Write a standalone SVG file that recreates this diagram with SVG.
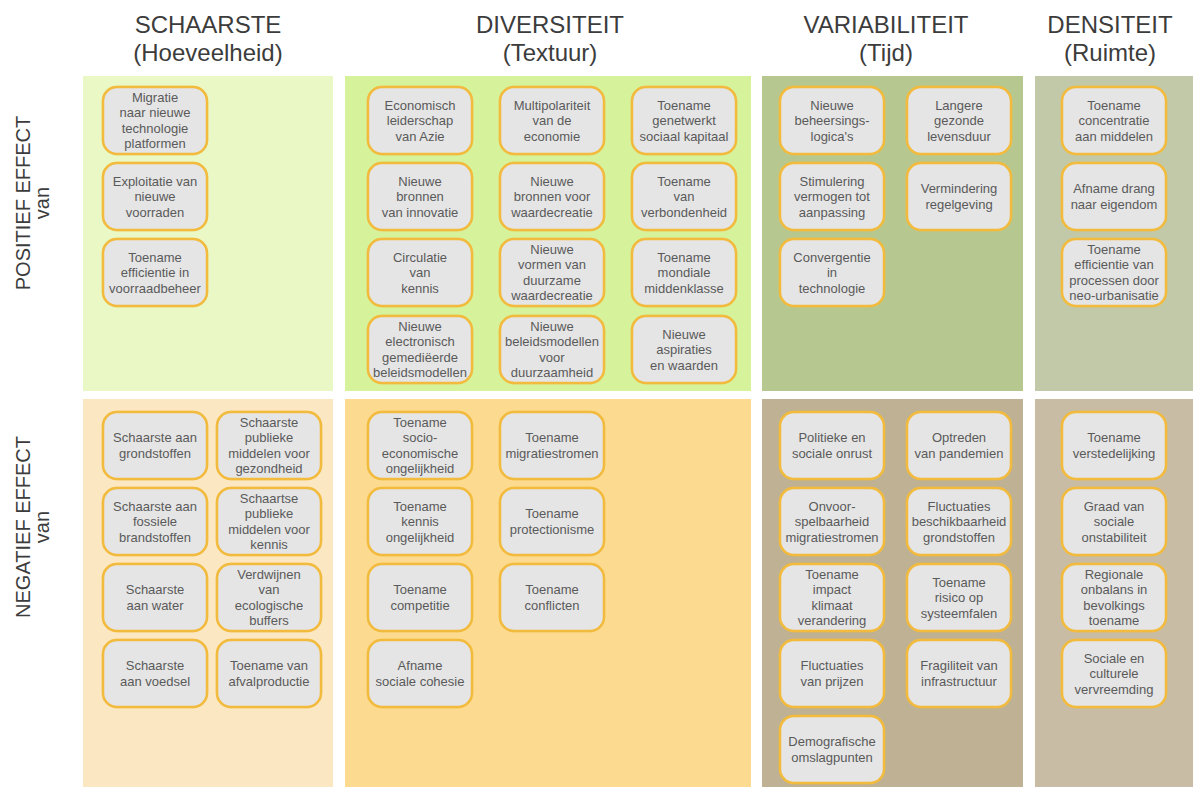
<svg xmlns="http://www.w3.org/2000/svg" width="1197" height="787" viewBox="0 0 1197 787">
  <defs>
    <style>
      .hd { font-family: "Liberation Sans", Arial, sans-serif; font-size: 24px; fill: #3c3c3c; text-anchor: middle; }
      .side { font-family: "Liberation Sans", Arial, sans-serif; font-size: 20px; fill: #3c3c3c; text-anchor: middle; }
      .node rect { fill: #e5e5e5; stroke: #f2bb3e; stroke-width: 2.5; }
      .node text { font-family: "Liberation Sans", Arial, sans-serif; font-size: 13px; fill: #5a5a5a; text-anchor: middle; }
      .halo { fill: none; stroke: #ffd98a; stroke-opacity: 0.55; stroke-width: 6; }
    </style>
  </defs>

  <rect width="1197" height="787" fill="#ffffff"/>

  <!-- column headers -->
  <g id="headers">
    <text class="hd" x="208" y="33">SCHAARSTE</text>
    <text class="hd" x="208" y="61">(Hoeveelheid)</text>
    <text class="hd" x="550" y="33">DIVERSITEIT</text>
    <text class="hd" x="550" y="61">(Textuur)</text>
    <text class="hd" x="886" y="33">VARIABILITEIT</text>
    <text class="hd" x="886" y="61">(Tijd)</text>
    <text class="hd" x="1110" y="33">DENSITEIT</text>
    <text class="hd" x="1110" y="61">(Ruimte)</text>
  </g>

  <!-- row labels -->
  <g id="rowlabels">
    <text class="side" transform="translate(30,203) rotate(-90)">POSITIEF EFFECT</text>
    <text class="side" transform="translate(49,203) rotate(-90)">van</text>
    <text class="side" transform="translate(30,527) rotate(-90)">NEGATIEF EFFECT</text>
    <text class="side" transform="translate(49,527) rotate(-90)">van</text>
  </g>

  <!-- quadrant panels -->
  <g id="panels">
    <rect id="p-schaarste-pos" x="83" y="76" width="250" height="315" fill="#eaf8c6"/>
    <rect id="p-diversiteit-pos" x="345" y="76" width="406" height="315" fill="#d6f39b"/>
    <rect id="p-variabiliteit-pos" x="762" y="76" width="261" height="315" fill="#b6c88f"/>
    <rect id="p-densiteit-pos" x="1035" y="76" width="158" height="315" fill="#c2c9a8"/>
    <rect id="p-schaarste-neg" x="83" y="399" width="250" height="388" fill="#fbe7c1"/>
    <rect id="p-diversiteit-neg" x="345" y="399" width="406" height="388" fill="#fcdb91"/>
    <rect id="p-variabiliteit-neg" x="762" y="399" width="261" height="388" fill="#bfb193"/>
    <rect id="p-densiteit-neg" x="1035" y="399" width="158" height="388" fill="#c9bca4"/>
  </g>

  <!-- no connectors in this chart -->
  <g id="connectors"/>

  <!-- SCHAARSTE / positief -->
  <g id="n-migratie" class="node"><rect class="halo" x="103" y="87" width="104" height="67" rx="14"/><rect x="103" y="87" width="104" height="67" rx="14"/>
    <text x="155" y="101.85"><tspan x="155">Migratie</tspan><tspan x="155" dy="15.5">naar nieuwe</tspan><tspan x="155" dy="15.5">technologie</tspan><tspan x="155" dy="15.5">platformen</tspan></text></g>
  <g id="n-exploitatie" class="node"><rect class="halo" x="103" y="163" width="104" height="67" rx="14"/><rect x="103" y="163" width="104" height="67" rx="14"/>
    <text x="155" y="185.6"><tspan x="155">Exploitatie van</tspan><tspan x="155" dy="15.5">nieuwe</tspan><tspan x="155" dy="15.5">voorraden</tspan></text></g>
  <g id="n-voorraadbeheer" class="node"><rect class="halo" x="103" y="239" width="104" height="67" rx="14"/><rect x="103" y="239" width="104" height="67" rx="14"/>
    <text x="155" y="261.6"><tspan x="155">Toename</tspan><tspan x="155" dy="15.5">efficientie in</tspan><tspan x="155" dy="15.5">voorraadbeheer</tspan></text></g>

  <!-- DIVERSITEIT / positief -->
  <g id="n-azie" class="node"><rect class="halo" x="368" y="87" width="104" height="67" rx="14"/><rect x="368" y="87" width="104" height="67" rx="14"/>
    <text x="420" y="109.6"><tspan x="420">Economisch</tspan><tspan x="420" dy="15.5">leiderschap</tspan><tspan x="420" dy="15.5">van Azie</tspan></text></g>
  <g id="n-multipolariteit" class="node"><rect class="halo" x="500" y="87" width="104" height="67" rx="14"/><rect x="500" y="87" width="104" height="67" rx="14"/>
    <text x="552" y="109.6"><tspan x="552">Multipolariteit</tspan><tspan x="552" dy="15.5">van de</tspan><tspan x="552" dy="15.5">economie</tspan></text></g>
  <g id="n-sociaal-kapitaal" class="node"><rect class="halo" x="632" y="87" width="104" height="67" rx="14"/><rect x="632" y="87" width="104" height="67" rx="14"/>
    <text x="684" y="109.6"><tspan x="684">Toename</tspan><tspan x="684" dy="15.5">genetwerkt</tspan><tspan x="684" dy="15.5">sociaal kapitaal</tspan></text></g>

  <g id="n-innovatie" class="node"><rect class="halo" x="368" y="163" width="104" height="67" rx="14"/><rect x="368" y="163" width="104" height="67" rx="14"/>
    <text x="420" y="185.6"><tspan x="420">Nieuwe</tspan><tspan x="420" dy="15.5">bronnen</tspan><tspan x="420" dy="15.5">van innovatie</tspan></text></g>
  <g id="n-waardecreatie" class="node"><rect class="halo" x="500" y="163" width="104" height="67" rx="14"/><rect x="500" y="163" width="104" height="67" rx="14"/>
    <text x="552" y="185.6"><tspan x="552">Nieuwe</tspan><tspan x="552" dy="15.5">bronnen voor</tspan><tspan x="552" dy="15.5">waardecreatie</tspan></text></g>
  <g id="n-verbondenheid" class="node"><rect class="halo" x="632" y="163" width="104" height="67" rx="14"/><rect x="632" y="163" width="104" height="67" rx="14"/>
    <text x="684" y="185.6"><tspan x="684">Toename</tspan><tspan x="684" dy="15.5">van</tspan><tspan x="684" dy="15.5">verbondenheid</tspan></text></g>

  <g id="n-circulatie" class="node"><rect class="halo" x="368" y="239" width="104" height="67" rx="14"/><rect x="368" y="239" width="104" height="67" rx="14"/>
    <text x="420" y="261.6"><tspan x="420">Circulatie</tspan><tspan x="420" dy="15.5">van</tspan><tspan x="420" dy="15.5">kennis</tspan></text></g>
  <g id="n-duurzame-waardecreatie" class="node"><rect class="halo" x="500" y="239" width="104" height="67" rx="14"/><rect x="500" y="239" width="104" height="67" rx="14"/>
    <text x="552" y="253.85"><tspan x="552">Nieuwe</tspan><tspan x="552" dy="15.5">vormen van</tspan><tspan x="552" dy="15.5">duurzame</tspan><tspan x="552" dy="15.5">waardecreatie</tspan></text></g>
  <g id="n-middenklasse" class="node"><rect class="halo" x="632" y="239" width="104" height="67" rx="14"/><rect x="632" y="239" width="104" height="67" rx="14"/>
    <text x="684" y="261.6"><tspan x="684">Toename</tspan><tspan x="684" dy="15.5">mondiale</tspan><tspan x="684" dy="15.5">middenklasse</tspan></text></g>

  <g id="n-electronisch" class="node"><rect class="halo" x="368" y="316" width="104" height="67" rx="14"/><rect x="368" y="316" width="104" height="67" rx="14"/>
    <text x="420" y="330.85"><tspan x="420">Nieuwe</tspan><tspan x="420" dy="15.5">electronisch</tspan><tspan x="420" dy="15.5">gemediëerde</tspan><tspan x="420" dy="15.5">beleidsmodellen</tspan></text></g>
  <g id="n-duurzaamheid" class="node"><rect class="halo" x="500" y="316" width="104" height="67" rx="14"/><rect x="500" y="316" width="104" height="67" rx="14"/>
    <text x="552" y="330.85"><tspan x="552">Nieuwe</tspan><tspan x="552" dy="15.5">beleidsmodellen</tspan><tspan x="552" dy="15.5">voor</tspan><tspan x="552" dy="15.5">duurzaamheid</tspan></text></g>
  <g id="n-aspiraties" class="node"><rect class="halo" x="632" y="316" width="104" height="67" rx="14"/><rect x="632" y="316" width="104" height="67" rx="14"/>
    <text x="684" y="338.6"><tspan x="684">Nieuwe</tspan><tspan x="684" dy="15.5">aspiraties</tspan><tspan x="684" dy="15.5">en waarden</tspan></text></g>

  <!-- VARIABILITEIT / positief -->
  <g id="n-beheersingslogica" class="node"><rect class="halo" x="780" y="87" width="104" height="67" rx="14"/><rect x="780" y="87" width="104" height="67" rx="14"/>
    <text x="832" y="109.6"><tspan x="832">Nieuwe</tspan><tspan x="832" dy="15.5">beheersings-</tspan><tspan x="832" dy="15.5">logica's</tspan></text></g>
  <g id="n-levensduur" class="node"><rect class="halo" x="907" y="87" width="104" height="67" rx="14"/><rect x="907" y="87" width="104" height="67" rx="14"/>
    <text x="959" y="109.6"><tspan x="959">Langere</tspan><tspan x="959" dy="15.5">gezonde</tspan><tspan x="959" dy="15.5">levensduur</tspan></text></g>
  <g id="n-aanpassing" class="node"><rect class="halo" x="780" y="163" width="104" height="67" rx="14"/><rect x="780" y="163" width="104" height="67" rx="14"/>
    <text x="832" y="185.6"><tspan x="832">Stimulering</tspan><tspan x="832" dy="15.5">vermogen tot</tspan><tspan x="832" dy="15.5">aanpassing</tspan></text></g>
  <g id="n-regelgeving" class="node"><rect class="halo" x="907" y="163" width="104" height="67" rx="14"/><rect x="907" y="163" width="104" height="67" rx="14"/>
    <text x="959" y="193.35"><tspan x="959">Vermindering</tspan><tspan x="959" dy="15.5">regelgeving</tspan></text></g>
  <g id="n-convergentie" class="node"><rect class="halo" x="780" y="239" width="104" height="67" rx="14"/><rect x="780" y="239" width="104" height="67" rx="14"/>
    <text x="832" y="261.6"><tspan x="832">Convergentie</tspan><tspan x="832" dy="15.5">in</tspan><tspan x="832" dy="15.5">technologie</tspan></text></g>

  <!-- DENSITEIT / positief -->
  <g id="n-concentratie" class="node"><rect class="halo" x="1062" y="87" width="104" height="67" rx="14"/><rect x="1062" y="87" width="104" height="67" rx="14"/>
    <text x="1114" y="109.6"><tspan x="1114">Toename</tspan><tspan x="1114" dy="15.5">concentratie</tspan><tspan x="1114" dy="15.5">aan middelen</tspan></text></g>
  <g id="n-eigendom" class="node"><rect class="halo" x="1062" y="163" width="104" height="67" rx="14"/><rect x="1062" y="163" width="104" height="67" rx="14"/>
    <text x="1114" y="193.35"><tspan x="1114">Afname drang</tspan><tspan x="1114" dy="15.5">naar eigendom</tspan></text></g>
  <g id="n-neo-urbanisatie" class="node"><rect class="halo" x="1062" y="239" width="104" height="67" rx="14"/><rect x="1062" y="239" width="104" height="67" rx="14"/>
    <text x="1114" y="253.85"><tspan x="1114">Toename</tspan><tspan x="1114" dy="15.5">efficientie van</tspan><tspan x="1114" dy="15.5">processen door</tspan><tspan x="1114" dy="15.5">neo-urbanisatie</tspan></text></g>

  <!-- SCHAARSTE / negatief -->
  <g id="n-grondstoffen" class="node"><rect class="halo" x="103" y="412" width="104" height="67" rx="14"/><rect x="103" y="412" width="104" height="67" rx="14"/>
    <text x="155" y="442.35"><tspan x="155">Schaarste aan</tspan><tspan x="155" dy="15.5">grondstoffen</tspan></text></g>
  <g id="n-gezondheid" class="node"><rect class="halo" x="217" y="412" width="104" height="67" rx="14"/><rect x="217" y="412" width="104" height="67" rx="14"/>
    <text x="269" y="426.85"><tspan x="269">Schaarste</tspan><tspan x="269" dy="15.5">publieke</tspan><tspan x="269" dy="15.5">middelen voor</tspan><tspan x="269" dy="15.5">gezondheid</tspan></text></g>
  <g id="n-fossiel" class="node"><rect class="halo" x="103" y="488" width="104" height="67" rx="14"/><rect x="103" y="488" width="104" height="67" rx="14"/>
    <text x="155" y="510.6"><tspan x="155">Schaarste aan</tspan><tspan x="155" dy="15.5">fossiele</tspan><tspan x="155" dy="15.5">brandstoffen</tspan></text></g>
  <g id="n-kennis-middelen" class="node"><rect class="halo" x="217" y="488" width="104" height="67" rx="14"/><rect x="217" y="488" width="104" height="67" rx="14"/>
    <text x="269" y="502.85"><tspan x="269">Schaartse</tspan><tspan x="269" dy="15.5">publieke</tspan><tspan x="269" dy="15.5">middelen voor</tspan><tspan x="269" dy="15.5">kennis</tspan></text></g>
  <g id="n-water" class="node"><rect class="halo" x="103" y="564" width="104" height="67" rx="14"/><rect x="103" y="564" width="104" height="67" rx="14"/>
    <text x="155" y="594.35"><tspan x="155">Schaarste</tspan><tspan x="155" dy="15.5">aan water</tspan></text></g>
  <g id="n-buffers" class="node"><rect class="halo" x="217" y="564" width="104" height="67" rx="14"/><rect x="217" y="564" width="104" height="67" rx="14"/>
    <text x="269" y="578.85"><tspan x="269">Verdwijnen</tspan><tspan x="269" dy="15.5">van</tspan><tspan x="269" dy="15.5">ecologische</tspan><tspan x="269" dy="15.5">buffers</tspan></text></g>
  <g id="n-voedsel" class="node"><rect class="halo" x="103" y="640" width="104" height="67" rx="14"/><rect x="103" y="640" width="104" height="67" rx="14"/>
    <text x="155" y="670.35"><tspan x="155">Schaarste</tspan><tspan x="155" dy="15.5">aan voedsel</tspan></text></g>
  <g id="n-afval" class="node"><rect class="halo" x="217" y="640" width="104" height="67" rx="14"/><rect x="217" y="640" width="104" height="67" rx="14"/>
    <text x="269" y="670.35"><tspan x="269">Toename van</tspan><tspan x="269" dy="15.5">afvalproductie</tspan></text></g>

  <!-- DIVERSITEIT / negatief -->
  <g id="n-socio-economisch" class="node"><rect class="halo" x="368" y="412" width="104" height="67" rx="14"/><rect x="368" y="412" width="104" height="67" rx="14"/>
    <text x="420" y="426.85"><tspan x="420">Toename</tspan><tspan x="420" dy="15.5">socio-</tspan><tspan x="420" dy="15.5">economische</tspan><tspan x="420" dy="15.5">ongelijkheid</tspan></text></g>
  <g id="n-migratiestromen" class="node"><rect class="halo" x="500" y="412" width="104" height="67" rx="14"/><rect x="500" y="412" width="104" height="67" rx="14"/>
    <text x="552" y="442.35"><tspan x="552">Toename</tspan><tspan x="552" dy="15.5">migratiestromen</tspan></text></g>
  <g id="n-kennis-ongelijkheid" class="node"><rect class="halo" x="368" y="488" width="104" height="67" rx="14"/><rect x="368" y="488" width="104" height="67" rx="14"/>
    <text x="420" y="510.6"><tspan x="420">Toename</tspan><tspan x="420" dy="15.5">kennis</tspan><tspan x="420" dy="15.5">ongelijkheid</tspan></text></g>
  <g id="n-protectionisme" class="node"><rect class="halo" x="500" y="488" width="104" height="67" rx="14"/><rect x="500" y="488" width="104" height="67" rx="14"/>
    <text x="552" y="518.35"><tspan x="552">Toename</tspan><tspan x="552" dy="15.5">protectionisme</tspan></text></g>
  <g id="n-competitie" class="node"><rect class="halo" x="368" y="564" width="104" height="67" rx="14"/><rect x="368" y="564" width="104" height="67" rx="14"/>
    <text x="420" y="594.35"><tspan x="420">Toename</tspan><tspan x="420" dy="15.5">competitie</tspan></text></g>
  <g id="n-conflicten" class="node"><rect class="halo" x="500" y="564" width="104" height="67" rx="14"/><rect x="500" y="564" width="104" height="67" rx="14"/>
    <text x="552" y="594.35"><tspan x="552">Toename</tspan><tspan x="552" dy="15.5">conflicten</tspan></text></g>
  <g id="n-cohesie" class="node"><rect class="halo" x="368" y="640" width="104" height="67" rx="14"/><rect x="368" y="640" width="104" height="67" rx="14"/>
    <text x="420" y="670.35"><tspan x="420">Afname</tspan><tspan x="420" dy="15.5">sociale cohesie</tspan></text></g>

  <!-- VARIABILITEIT / negatief -->
  <g id="n-onrust" class="node"><rect class="halo" x="780" y="412" width="104" height="67" rx="14"/><rect x="780" y="412" width="104" height="67" rx="14"/>
    <text x="832" y="442.35"><tspan x="832">Politieke en</tspan><tspan x="832" dy="15.5">sociale onrust</tspan></text></g>
  <g id="n-pandemien" class="node"><rect class="halo" x="907" y="412" width="104" height="67" rx="14"/><rect x="907" y="412" width="104" height="67" rx="14"/>
    <text x="959" y="442.35"><tspan x="959">Optreden</tspan><tspan x="959" dy="15.5">van pandemien</tspan></text></g>
  <g id="n-onvoorspelbaarheid" class="node"><rect class="halo" x="780" y="488" width="104" height="67" rx="14"/><rect x="780" y="488" width="104" height="67" rx="14"/>
    <text x="832" y="510.6"><tspan x="832">Onvoor-</tspan><tspan x="832" dy="15.5">spelbaarheid</tspan><tspan x="832" dy="15.5">migratiestromen</tspan></text></g>
  <g id="n-beschikbaarheid" class="node"><rect class="halo" x="907" y="488" width="104" height="67" rx="14"/><rect x="907" y="488" width="104" height="67" rx="14"/>
    <text x="959" y="510.6"><tspan x="959">Fluctuaties</tspan><tspan x="959" dy="15.5">beschikbaarheid</tspan><tspan x="959" dy="15.5">grondstoffen</tspan></text></g>
  <g id="n-klimaat" class="node"><rect class="halo" x="780" y="564" width="104" height="67" rx="14"/><rect x="780" y="564" width="104" height="67" rx="14"/>
    <text x="832" y="578.85"><tspan x="832">Toename</tspan><tspan x="832" dy="15.5">impact</tspan><tspan x="832" dy="15.5">klimaat</tspan><tspan x="832" dy="15.5">verandering</tspan></text></g>
  <g id="n-systeemfalen" class="node"><rect class="halo" x="907" y="564" width="104" height="67" rx="14"/><rect x="907" y="564" width="104" height="67" rx="14"/>
    <text x="959" y="586.6"><tspan x="959">Toename</tspan><tspan x="959" dy="15.5">risico op</tspan><tspan x="959" dy="15.5">systeemfalen</tspan></text></g>
  <g id="n-prijzen" class="node"><rect class="halo" x="780" y="640" width="104" height="67" rx="14"/><rect x="780" y="640" width="104" height="67" rx="14"/>
    <text x="832" y="670.35"><tspan x="832">Fluctuaties</tspan><tspan x="832" dy="15.5">van prijzen</tspan></text></g>
  <g id="n-infrastructuur" class="node"><rect class="halo" x="907" y="640" width="104" height="67" rx="14"/><rect x="907" y="640" width="104" height="67" rx="14"/>
    <text x="959" y="670.35"><tspan x="959">Fragiliteit van</tspan><tspan x="959" dy="15.5">infrastructuur</tspan></text></g>
  <g id="n-demografie" class="node"><rect class="halo" x="780" y="716" width="104" height="67" rx="14"/><rect x="780" y="716" width="104" height="67" rx="14"/>
    <text x="832" y="746.35"><tspan x="832">Demografische</tspan><tspan x="832" dy="15.5">omslagpunten</tspan></text></g>

  <!-- DENSITEIT / negatief -->
  <g id="n-verstedelijking" class="node"><rect class="halo" x="1062" y="412" width="104" height="67" rx="14"/><rect x="1062" y="412" width="104" height="67" rx="14"/>
    <text x="1114" y="442.35"><tspan x="1114">Toename</tspan><tspan x="1114" dy="15.5">verstedelijking</tspan></text></g>
  <g id="n-onstabiliteit" class="node"><rect class="halo" x="1062" y="488" width="104" height="67" rx="14"/><rect x="1062" y="488" width="104" height="67" rx="14"/>
    <text x="1114" y="510.6"><tspan x="1114">Graad van</tspan><tspan x="1114" dy="15.5">sociale</tspan><tspan x="1114" dy="15.5">onstabiliteit</tspan></text></g>
  <g id="n-onbalans" class="node"><rect class="halo" x="1062" y="564" width="104" height="67" rx="14"/><rect x="1062" y="564" width="104" height="67" rx="14"/>
    <text x="1114" y="578.85"><tspan x="1114">Regionale</tspan><tspan x="1114" dy="15.5">onbalans in</tspan><tspan x="1114" dy="15.5">bevolkings</tspan><tspan x="1114" dy="15.5">toename</tspan></text></g>
  <g id="n-vervreemding" class="node"><rect class="halo" x="1062" y="640" width="104" height="67" rx="14"/><rect x="1062" y="640" width="104" height="67" rx="14"/>
    <text x="1114" y="662.6"><tspan x="1114">Sociale en</tspan><tspan x="1114" dy="15.5">culturele</tspan><tspan x="1114" dy="15.5">vervreemding</tspan></text></g>
</svg>
